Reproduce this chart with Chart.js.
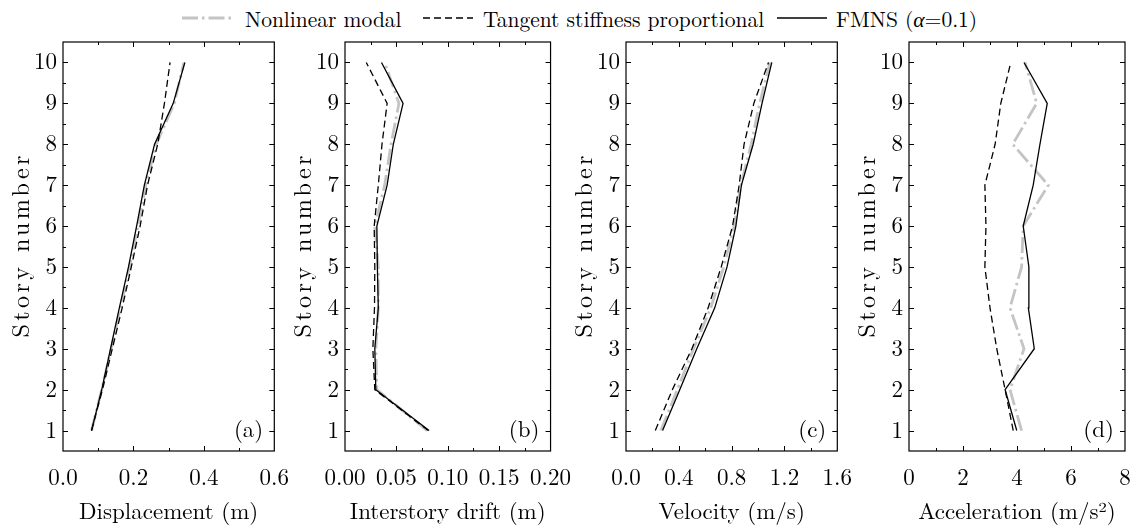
<!DOCTYPE html>
<html>
<head>
<meta charset="utf-8">
<script src="https://cdn.jsdelivr.net/npm/chart.js@4.4.1/dist/chart.umd.min.js"></script>
<style>
  html, body { margin: 0; padding: 0; background: #fff; }
  #wrap { position: relative; width: 1136px; height: 529px; overflow: hidden;
          font-family: "Latin Modern Roman", "CMU Serif", "Liberation Serif", "DejaVu Serif", serif; }
  .panel { position: absolute; top: 0; }
  .leg { position: absolute; top: 5px; font-size: 21.5px; line-height: 26px; color: #000; white-space: nowrap; }
  .legline { position: absolute; top: 8px; }
</style>
</head>
<body>
<div id="wrap">
  <svg class="legline" style="left:182px" width="50" height="20"><line x1="0" y1="10" x2="50" y2="10" stroke="#c4c4c4" stroke-width="2.8" stroke-dasharray="16 4 2.5 4"/></svg>
  <div class="leg" style="left:245px">Nonlinear modal</div>
  <svg class="legline" style="left:423px" width="50" height="20"><line x1="0" y1="10" x2="50" y2="10" stroke="#000" stroke-width="1.4" stroke-dasharray="7 4"/></svg>
  <div class="leg" style="left:483px">Tangent stiffness proportional</div>
  <svg class="legline" style="left:777px" width="50" height="20"><line x1="0" y1="10" x2="50" y2="10" stroke="#000" stroke-width="1.4"/></svg>
  <div class="leg" style="left:836px">FMNS (<i>α</i>=0.1)</div>
</div>
<script>
// Story levels (vertical axis)
const stories = [1, 2, 3, 4, 5, 6, 7, 8, 9, 10];

// Peak displacement (m)
const dispModal   = [0.081, 0.110, 0.137, 0.163, 0.189, 0.213, 0.235, 0.265, 0.316, 0.343];
const dispTangent = [0.081, 0.112, 0.140, 0.168, 0.194, 0.219, 0.240, 0.269, 0.288, 0.304];
const dispFmns    = [0.081, 0.110, 0.135, 0.160, 0.186, 0.209, 0.231, 0.260, 0.313, 0.346];

// Peak interstory drift (m)
const driftModal   = [0.0800, 0.0310, 0.0300, 0.0324, 0.0324, 0.0290, 0.0386, 0.0448, 0.0525, 0.0386];
const driftTangent = [0.0810, 0.0290, 0.0271, 0.0287, 0.0290, 0.0284, 0.0324, 0.0360, 0.0410, 0.0207];
const driftFmns    = [0.0818, 0.0300, 0.0290, 0.0324, 0.0315, 0.0310, 0.0410, 0.0470, 0.0565, 0.0355];

// Peak velocity (m/s)
const velModal   = [0.264, 0.389, 0.511, 0.642, 0.740, 0.819, 0.869, 0.948, 1.012, 1.090];
const velTangent = [0.222, 0.351, 0.499, 0.622, 0.721, 0.807, 0.857, 0.894, 0.968, 1.079];
const velFmns    = [0.277, 0.407, 0.536, 0.672, 0.765, 0.832, 0.874, 0.963, 1.030, 1.104];

// Peak acceleration (m/s^2)
const accModal   = [4.17, 3.74, 4.26, 3.74, 4.17, 4.23, 5.16, 3.84, 4.73, 4.30];
const accTangent = [3.86, 3.56, 3.25, 3.00, 2.81, 2.85, 2.81, 3.19, 3.40, 3.77];
const accFmns    = [3.99, 3.56, 4.64, 4.42, 4.44, 4.23, 4.60, 4.85, 5.12, 4.26];

// Horizontal axis tick values per panel
const dispTicks  = [0, 0.2, 0.4, 0.6];
const driftTicks = [0, 0.05, 0.10, 0.15, 0.20];
const velTicks   = [0, 0.4, 0.8, 1.2, 1.6];
const accTicks   = [0, 2, 4, 6, 8];

const seriesNames = ['Nonlinear modal', 'Tangent stiffness proportional', 'FMNS (α=0.1)'];
const yTitle = 'Story number';

const FONT = '"Latin Modern Roman", "CMU Serif", "Liberation Serif", "DejaVu Serif", serif';
Chart.defaults.font.family = FONT;
Chart.defaults.color = '#000';

// Box frame with inward major/minor ticks on all four sides, panel tag and vertical axis title
const framePlugin = {
  id: 'frame',
  afterDatasetsDraw(chart, args, opts) {
    const { ctx, chartArea: a, scales: { x, y } } = chart;
    ctx.save();
    ctx.strokeStyle = '#000';
    ctx.lineWidth = 1.2;
    ctx.strokeRect(a.left, a.top, a.right - a.left, a.bottom - a.top);
    const major = 5, minor = 3;
    const xv = x.ticks.map(t => t.value);
    const yv = y.ticks.map(t => t.value);
    const mids = v => v.slice(1).map((t, i) => (t + v[i]) / 2);
    const yMinor = mids(yv).concat([yv[0] - 0.5, yv[yv.length - 1] + 0.5])
      .filter(v => v > y.min && v < y.max);
    ctx.lineWidth = 1;
    ctx.beginPath();
    const hx = (vals, len) => vals.forEach(v => {
      const px = Math.round(x.getPixelForValue(v)) + 0.5;
      ctx.moveTo(px, a.bottom); ctx.lineTo(px, a.bottom - len);
      ctx.moveTo(px, a.top); ctx.lineTo(px, a.top + len);
    });
    const hy = (vals, len) => vals.forEach(v => {
      const py = Math.round(y.getPixelForValue(v)) + 0.5;
      ctx.moveTo(a.left, py); ctx.lineTo(a.left + len, py);
      ctx.moveTo(a.right, py); ctx.lineTo(a.right - len, py);
    });
    hx(xv.slice(1, -1), major);
    hx(mids(xv), minor);
    hy(yv, major);
    hy(yMinor, minor);
    ctx.stroke();

    ctx.font = '23px ' + FONT;
    ctx.fillStyle = '#000';
    ctx.textAlign = 'right';
    ctx.textBaseline = 'middle';
    ctx.fillText(opts.tag, a.right - 11, a.bottom - 21);

    // vertical axis title, spread to its set length
    ctx.font = '24px ' + FONT;
    const base = ctx.measureText(yTitle).width;
    const spread = Math.max(0, (opts.titleLength - base) / (yTitle.length - 1));
    ctx.letterSpacing = spread.toFixed(2) + 'px';
    ctx.translate(opts.titleX, (a.top + a.bottom) / 2);
    ctx.rotate(-Math.PI / 2);
    ctx.textAlign = 'center';
    ctx.fillText(yTitle, spread / 2, 0);
    ctx.restore();
  }
};

function makeDatasets(modal, tangent, fmns) {
  const pts = arr => arr.map((v, i) => ({ x: v, y: stories[i] }));
  return [
    { label: seriesNames[0], data: pts(modal), borderColor: '#c4c4c4', borderWidth: 2.8,
      borderDash: [16, 4, 2.5, 4], order: 3 },
    { label: seriesNames[1], data: pts(tangent), borderColor: '#000', borderWidth: 1.3,
      borderDash: [7, 4], order: 2 },
    { label: seriesNames[2], data: pts(fmns), borderColor: '#000', borderWidth: 1.3, order: 1 }
  ].map(d => Object.assign({ showLine: true, pointRadius: 0, fill: false, tension: 0 }, d));
}

function makePanel(left, tag, title, ticks, decimals, datasets) {
  const div = document.createElement('div');
  div.className = 'panel';
  div.style.left = left + 'px';
  const cv = document.createElement('canvas');
  cv.width = 302; cv.height = 529;
  div.appendChild(cv);
  document.getElementById('wrap').appendChild(div);
  new Chart(cv, {
    type: 'scatter',
    data: { datasets },
    plugins: [framePlugin],
    options: {
      responsive: false,
      animation: false,
      devicePixelRatio: 1,
      layout: { padding: { top: 42, right: 23, left: 0, bottom: 0 } },
      plugins: { legend: { display: false }, tooltip: { enabled: false },
                 frame: { tag, titleX: 22, titleLength: 182 } },
      scales: {
        x: {
          type: 'linear', min: ticks[0], max: ticks[ticks.length - 1],
          afterBuildTicks: s => { s.ticks = ticks.map(v => ({ value: v })); },
          afterFit: s => { s.height = 78; },
          grid: { display: false, drawTicks: false },
          border: { display: false },
          ticks: { font: { size: 23 }, padding: 13, maxRotation: 0,
                   callback: v => Number(v).toFixed(decimals) },
          title: { display: true, text: title, font: { size: 23 }, padding: { top: 0, bottom: 3 } }
        },
        y: {
          type: 'linear', min: 0.5, max: 10.5,
          afterBuildTicks: s => { s.ticks = stories.map(v => ({ value: v })); },
          afterFit: s => { s.width = 63; },
          grid: { display: false, drawTicks: false },
          border: { display: false },
          ticks: { font: { size: 23 }, padding: 6, callback: v => String(v) },
          title: { display: false }
        }
      }
    }
  });
}

makePanel(0,   '(a)', 'Displacement (m)',     dispTicks,  1, makeDatasets(dispModal, dispTangent, dispFmns));
makePanel(282, '(b)', 'Interstory drift (m)', driftTicks, 2, makeDatasets(driftModal, driftTangent, driftFmns));
makePanel(563, '(c)', 'Velocity (m/s)',       velTicks,   1, makeDatasets(velModal, velTangent, velFmns));
makePanel(846, '(d)', 'Acceleration (m/s²)',  accTicks,   0, makeDatasets(accModal, accTangent, accFmns));
</script>
</body>
</html>
